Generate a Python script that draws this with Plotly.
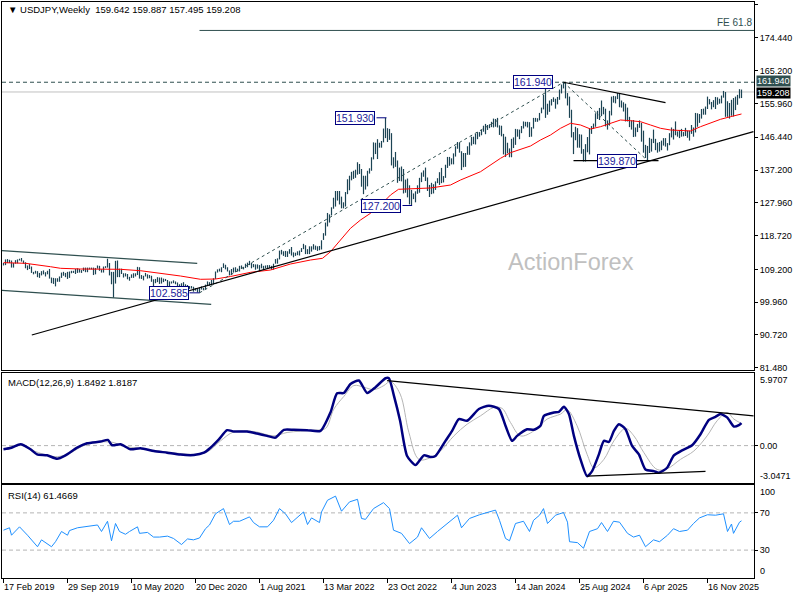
import plotly.graph_objects as go

# weekly USDJPY bars, week 0 = 17 Feb 2019
hi_2019 = [111.0, 112.0, 112.1, 111.9, 111.7, 111.0, 111.8, 112.0, 112.2, 112.4, 111.7, 111.2, 110.3, 110.7, 110.0, 108.5,
           108.8, 108.7, 108.2, 108.7, 108.9, 108.4, 108.8, 109.3, 106.9, 106.8, 106.7, 106.7, 107.2, 108.3, 108.5, 108.2,
           108.5, 108.6, 108.8, 108.8, 109.3, 109.5, 109.3, 109.0, 109.7, 109.7, 109.7, 109.7, 109.7, 109.7]
lo_2019 = [110.3, 110.4, 111.0, 111.0, 109.7, 109.7, 110.8, 110.9, 111.7, 111.4, 110.8, 109.5, 109.0, 109.3, 108.2, 107.8,
           108.0, 107.0, 106.8, 107.5, 107.8, 107.2, 107.8, 106.6, 105.3, 105.1, 104.4, 105.7, 105.7, 106.8, 107.4, 107.0,
           106.5, 106.8, 108.1, 108.2, 107.9, 108.2, 108.3, 108.2, 108.7, 108.4, 108.4, 109.2, 109.2, 107.6]
hi_2020 = [109.6, 110.3, 110.2, 109.2, 110.0, 110.1, 112.2, 111.0, 108.5, 108.5, 111.6, 111.7, 109.4, 109.4, 108.1, 108.1,
           107.9, 107.1, 107.8, 108.1, 108.1, 109.9, 109.8, 107.6, 107.4, 108.2, 107.8, 107.6, 107.4, 106.4, 106.5, 107.0,
           106.9, 106.9, 106.6, 106.5, 106.2, 105.8, 105.8, 106.1, 105.8, 105.5, 105.0, 105.3, 105.6, 105.0, 104.8, 104.5,
           104.5, 104.3, 103.9, 103.8]
lo_2020 = [107.8, 109.4, 108.8, 108.3, 108.3, 109.6, 109.7, 107.5, 105.0, 101.2, 105.2, 107.0, 107.0, 107.9, 106.9, 107.2,
           106.4, 106.0, 106.8, 106.8, 107.2, 107.6, 106.6, 106.5, 106.1, 107.2, 106.6, 106.7, 105.7, 104.2, 105.3, 105.6,
           105.1, 105.2, 105.6, 105.9, 104.3, 104.0, 105.2, 105.3, 105.0, 104.3, 104.0, 103.2, 103.2, 103.7, 103.7, 103.7,
           103.8, 102.9, 103.2, 102.7]
hi_2021 = [104.1, 104.4, 104.0, 104.9, 105.8, 105.6, 106.2, 106.7, 108.6, 109.2, 109.4, 109.8, 110.9, 110.5, 109.8, 108.9,
           109.3, 109.7, 109.8, 109.4, 110.2, 110.3, 109.9, 110.8, 111.1, 111.6, 111.0, 110.7, 110.6, 110.6, 110.4, 110.8,
           110.2, 110.3, 110.4, 110.4, 110.2, 110.8, 112.1, 112.3, 114.5, 114.7, 114.3, 114.4, 114.3, 114.9, 115.5, 114.0,
           113.9, 114.3, 114.5, 115.2]
lo_2021 = [102.6, 103.5, 103.3, 103.5, 104.5, 104.6, 104.9, 104.9, 106.5, 108.3, 108.6, 108.4, 109.6, 109.2, 108.6, 107.5,
           107.6, 108.3, 108.4, 108.6, 108.6, 109.3, 109.2, 109.6, 109.8, 110.4, 109.5, 109.8, 109.1, 109.4, 108.7, 109.5,
           109.1, 109.5, 109.6, 109.6, 109.1, 109.1, 110.8, 110.8, 112.0, 113.4, 113.0, 112.7, 112.7, 113.6, 113.1, 112.6,
           113.0, 113.2, 113.1, 114.1]
hi_2022 = [116.4, 116.0, 114.9, 115.7, 115.7, 116.3, 115.9, 115.7, 115.8, 117.4, 119.4, 122.4, 125.1, 124.7, 126.7, 129.4,
           131.3, 131.3, 131.3, 129.7, 128.1, 131.0, 134.6, 135.6, 136.7, 137.0, 137.3, 139.4, 138.9, 137.5, 135.6, 135.6,
           137.0, 137.7, 140.8, 145.0, 144.9, 145.9, 144.9, 145.4, 148.9, 151.9, 149.0, 148.8, 147.6, 140.8, 142.3, 139.9,
           137.9, 138.2, 137.5, 134.5]
lo_2022 = [114.9, 113.5, 113.5, 113.5, 114.2, 114.8, 114.7, 114.4, 114.6, 114.8, 117.5, 118.7, 121.3, 122.4, 124.4, 126.3,
           126.9, 128.6, 127.5, 126.4, 126.4, 126.9, 130.4, 131.5, 134.3, 134.7, 135.0, 135.9, 136.1, 132.5, 130.4, 131.7,
           132.6, 136.2, 137.0, 140.2, 141.7, 140.3, 143.5, 143.5, 145.0, 146.2, 145.1, 145.7, 138.5, 137.7, 138.1, 133.6,
           134.1, 134.0, 130.6, 130.8]
hi_2023 = [134.8, 132.9, 131.6, 130.6, 131.2, 132.9, 135.0, 136.5, 137.1, 137.9, 135.1, 133.0, 133.6, 133.2, 134.0, 134.9,
           136.6, 137.8, 135.5, 138.7, 140.9, 140.9, 140.5, 141.9, 143.9, 145.1, 144.9, 142.5, 142.0, 142.0, 143.9, 145.0,
           146.6, 146.6, 147.4, 147.9, 147.9, 148.5, 149.7, 150.2, 149.9, 150.1, 150.8, 151.7, 151.6, 151.9, 149.8, 149.7,
           147.4, 146.6, 144.9, 143.3]
lo_2023 = [129.5, 127.5, 127.2, 129.0, 128.1, 130.5, 130.8, 133.8, 135.3, 134.1, 131.3, 129.6, 130.4, 130.6, 131.6, 133.5,
           133.0, 133.5, 133.7, 135.0, 137.8, 138.4, 138.8, 138.8, 141.0, 143.2, 142.1, 137.2, 138.0, 138.1, 141.5, 141.5,
           144.1, 144.5, 144.4, 145.9, 146.6, 147.0, 148.0, 147.3, 148.5, 149.0, 149.3, 149.2, 149.4, 149.2, 147.1, 146.7,
           141.6, 140.9, 141.9, 140.8]
hi_2024 = [146.0, 146.4, 148.8, 148.7, 148.6, 149.6, 150.9, 150.8, 150.8, 150.7, 149.3, 151.9, 151.9, 151.8, 153.3, 154.8,
           158.4, 160.2, 155.9, 156.8, 157.2, 157.7, 157.3, 157.8, 159.9, 161.3, 161.95, 161.8, 158.9, 157.9, 154.2, 147.9,
           149.4, 149.0, 147.3, 147.2, 143.1, 144.5, 146.5, 149.0, 149.6, 150.3, 153.2, 153.9, 154.7, 156.8, 155.0, 154.5,
           151.2, 153.9, 157.9, 158.1, 158.0]
lo_2024 = [140.8, 143.4, 144.3, 146.6, 145.9, 147.6, 148.9, 149.5, 149.2, 146.5, 146.6, 148.9, 150.8, 150.8, 151.2, 153.2,
           154.3, 151.9, 152.8, 153.6, 155.4, 156.4, 154.5, 155.7, 157.0, 158.8, 160.2, 157.4, 155.4, 151.9, 146.4, 141.7,
           145.6, 143.5, 143.5, 141.8, 139.6, 139.6, 142.2, 141.6, 147.4, 148.8, 149.4, 151.6, 151.3, 152.4, 152.9, 149.5,
           148.6, 149.8, 152.6, 156.2, 156.0]
hi_2025 = [158.9, 158.9, 156.8, 156.3, 155.9, 154.8, 152.2, 151.2, 151.3, 149.2, 150.2, 151.2, 150.5, 148.3, 144.3, 144.0,
           146.3, 146.0, 148.6, 146.0, 144.9, 145.1, 145.5, 146.2, 146.2, 144.8, 147.6, 149.2, 148.8, 150.9, 148.1, 148.5,
           148.8, 147.9, 149.1, 148.3, 148.3, 149.9, 149.2, 153.3, 153.2, 153.0, 154.4, 154.5, 155.1, 157.9, 157.2, 156.4,
           156.9, 157.8, 157.7, 157.3]
lo_2025 = [157.2, 154.9, 154.8, 153.7, 150.9, 150.9, 149.3, 148.6, 146.5, 146.6, 147.9, 149.1, 145.2, 142.1, 140.6, 139.9,
           142.0, 142.4, 144.8, 142.8, 142.1, 142.4, 142.8, 144.1, 143.8, 142.7, 144.2, 146.4, 145.8, 147.0, 146.6, 146.2,
           146.6, 146.7, 146.8, 146.3, 145.5, 147.4, 146.6, 147.8, 149.4, 150.5, 151.7, 152.8, 152.8, 154.4, 155.7, 154.3,
           154.9, 154.4, 155.6, 155.9]
hi_2026 = [158.2, 159.5, 159.2, 156.6, 156.1, 157.0, 157.5, 157.9, 158.4, 160.0, 159.887]
lo_2026 = [156.0, 157.6, 152.2, 152.2, 151.7, 152.5, 152.3, 154.1, 155.6, 157.4, 157.495]

highs = hi_2019 + hi_2020 + hi_2021 + hi_2022 + hi_2023 + hi_2024 + hi_2025 + hi_2026
lows = lo_2019 + lo_2020 + lo_2021 + lo_2022 + lo_2023 + lo_2024 + lo_2025 + lo_2026

# red moving average
ma_weeks = [0, 11, 23.5, 28.5, 38.5, 48.5, 58.5, 68.5, 78.5, 88.5, 98.5, 106, 113.5, 123.5, 133.5, 143.5, 153.5, 159.5,
            163.5, 168.5, 173.5, 178.5, 183.5, 188.5, 193.5, 197.5, 203.5, 213.5, 223.5, 228.5, 238.5, 248.5, 253.5,
            258.5, 263.5, 268.5, 273.5, 278.5, 283.5, 288.5, 293.5, 298.5, 303.5, 308.5, 313.5, 318.5, 323.5, 328.5,
            333.5, 338.5, 343.5, 348.5, 353.5, 358.5, 363.5, 369]
ma_vals = [111.08, 110.91, 109.95, 109.50, 109.30, 109.30, 109.22, 108.82, 108.09, 107.33, 106.40, 106.48, 107.19, 108.37,
           109.02, 110.71, 111.84, 112.32, 114.18, 117.48, 120.78, 123.12, 125.01, 127.34, 130.16, 131.77, 131.85, 132.14,
           132.98, 134.39, 136.73, 140.51, 142.09, 143.05, 143.98, 145.67, 147.08, 148.97, 150.38, 149.90, 148.77, 149.42,
           150.38, 151.31, 151.11, 150.83, 149.90, 148.97, 148.49, 148.29, 148.21, 149.42, 150.55, 151.50, 152.24, 153.00]

macd_weeks = [0, 4, 8.5, 13.5, 16.8, 21.8, 26.8, 31, 36.8, 41.8, 48.5, 52.2, 54.3, 58.5, 63.5, 68.5, 75.2, 81.8, 88.5,
              95.2, 100.2, 103.5, 107.7, 111.8, 115.2, 121.8, 126.8, 131.8, 136, 140.2, 145.2, 151.8, 158.5, 163.5,
              166.8, 170.2, 173.5, 177.7, 181.8, 186, 191, 192.7, 195.2, 198.3, 201.8, 206, 210.2, 213.5, 216, 221,
              224.3, 227.7, 231.8, 237.7, 242.7, 247.7, 251, 254.3, 256.8, 261.8, 265.2, 268.5, 270.2, 275.2, 277.7,
              280.2, 282.7, 285.2, 288.5, 291.8, 294.3, 297.7, 300.2, 302.7, 305.2, 307.7, 311, 314.3, 317.7, 321,
              325.2, 327.7, 331.8, 335.2, 339.3, 344.3, 348.5, 352.7, 356, 358.5, 361.8, 365.2, 367.7, 369]
macd_vals = [-0.30, -0.17, 0.11, -0.30, -0.72, -0.80, -1.08, -0.80, -0.17, 0.19, 0.33, 0.47, 0.03, 0.11, -0.30, -0.22,
             -0.44, -0.58, -0.74, -0.77, -0.58, -0.17, 0.52, 1.27, 1.16, 1.16, 0.99, 0.80, 0.66, 1.30, 1.30, 1.27, 1.21,
             2.73, 4.30, 4.33, 5.07, 5.35, 4.33, 4.80, 5.54, 5.54, 4.11, 2.04, -0.85, -1.60, -0.80, -0.94, -0.85, 0.39,
             1.21, 2.18, 2.04, 3.01, 3.28, 3.01, 1.63, 0.39, 0.80, 1.35, 1.30, 1.63, 2.45, 2.73, 2.78, 3.20, 2.59, 0.80,
             -1.13, -2.51, -2.10, -0.72, 0.39, 0.30, 1.21, 1.76, 1.35, -0.03, -0.72, -1.96, -2.10, -2.23, -1.82, -0.80,
             -0.39, 0.03, 0.94, 2.12, 2.37, 2.59, 2.32, 1.57, 1.68, 1.85]

sig_weeks = [0, 8.5, 15.2, 25.2, 31.8, 41.8, 53.5, 60.2, 68.5, 81.8, 95.2, 101.8, 108.5, 115.2, 125.2, 135.2, 141.8,
             155.2, 161, 165.2, 170.2, 175.2, 180.2, 185.2, 190.2, 193.5, 198.3, 202.7, 207.7, 213.5, 218.5, 225.2,
             231.8, 238.5, 245.2, 249.3, 253.5, 258.5, 265.2, 271.8, 278.5, 281.8, 286.8, 291.8, 295.2, 300.2, 305.2,
             311, 315.2, 320.2, 326.8, 331.8, 338.5, 345.2, 351.8, 356.8, 361.8, 365.2, 369]
sig_vals = [-0.30, 0.03, -0.44, -0.91, -0.72, 0.11, 0.30, -0.03, -0.25, -0.52, -0.72, -0.52, 0.39, 1.13, 1.16, 0.80,
            1.08, 1.27, 1.41, 3.01, 4.05, 4.94, 4.80, 4.60, 4.94, 5.27, 4.25, 1.08, -1.13, -0.99, -0.44, 0.80, 1.76,
            2.45, 3.14, 3.06, 1.90, 0.80, 1.21, 2.18, 2.59, 2.95, 1.63, -0.72, -1.82, -1.13, 0.39, 1.41, 0.80, -0.58,
            -1.96, -1.90, -1.13, -0.44, 0.80, 2.04, 2.73, 2.18, 1.82]

rsi_weeks = [0, 3, 4, 8, 12, 15, 17, 19, 22, 24, 26, 29, 32, 33, 37, 40, 43, 47, 49, 52, 54, 56, 58, 61, 63, 67, 68,
             72, 75, 78, 82, 85, 89, 92, 95, 98, 101, 103, 106, 110, 113, 115, 118, 123, 125, 128, 132, 135, 138, 141,
             144, 147, 150, 152, 154, 158, 159, 162, 166, 169, 173, 177, 179, 181, 185, 190, 193, 195, 199, 203, 207,
             209, 213, 217, 220, 223, 227, 229, 233, 238, 242, 246, 248, 251, 253, 256, 260, 263, 265, 268, 270, 272,
             276, 280, 282, 283, 287, 290, 293, 297, 299, 302, 305, 308, 312, 315, 318, 321, 325, 328, 332, 335, 338,
             342, 345, 348, 352, 356, 360, 362, 364, 365, 368, 369]
rsi_vals = [51.4, 54, 46, 55, 46, 38, 33.6, 41, 37, 33.6, 39, 50, 46, 51, 54, 55, 56, 57, 50, 61, 40, 58.6, 50, 47, 50,
            55, 48, 49, 44, 44, 45, 42.5, 36, 42, 41, 43, 53, 57, 69, 74.6, 57.5, 61, 61, 65.7, 59.6, 55, 55, 62, 74.6,
            69, 59.6, 65.7, 71, 57.5, 64.6, 59.6, 71, 83.6, 88, 71.8, 81.8, 84.6, 64, 63, 74.6, 81, 74.6, 51.4, 48, 37,
            44, 54, 42.5, 50, 55, 61, 67.5, 54, 64, 68, 70.4, 73, 62, 42.5, 40, 58.6, 61, 50, 62, 67.5, 74.6, 58.6,
            67.5, 70.4, 60, 39, 38, 32, 50, 53, 59.6, 50, 61, 60, 48, 44, 46, 33.6, 41, 39, 46, 53, 50, 51.4, 58.6,
            64.6, 68, 67.5, 69, 50, 58, 48, 60, 61.47]

price_ticks = [183.96, 174.44, 165.2, 155.96, 146.44, 137.2, 127.96, 118.72, 109.2, 99.96, 90.72, 81.48]
date_ticks = [0, 32, 64, 96, 128, 160, 192, 224, 256, 288, 320, 352]
date_labels = ["17 Feb 2019", "29 Sep 2019", "10 May 2020", "20 Dec 2020", "1 Aug 2021", "13 Mar 2022",
               "23 Oct 2022", "4 Jun 2023", "14 Jan 2024", "25 Aug 2024", "6 Apr 2025", "16 Nov 2025"]

# drawn objects (week, price)
trend_long = ([14.15, 375], [90.70, 148.01])
channel_up = ([-0.75, 96.85], [114.46, 110.91])
channel_lo = ([-0.75, 103.85], [103.30, 99.35])
res_line = ([280, 331], [161.94, 156.18])
sup_line = ([285, 327.5], [139.87, 139.87])
fe_points = ([98, 280, 322], [102.585, 161.94, 139.87])
fe_level = 176.55
macd_res = ([191.8, 375], [5.35, 2.45])
macd_sup = ([291.8, 351], [-2.51, -2.12])
labels = [("102.585", 82.5, 102.585, 93, 98), ("151.930", 175.75, 151.93, 186.5, 191.5),
          ("127.200", 188.75, 127.2, 199.5, 204.3), ("161.940", 264.75, 161.94, None, None),
          ("139.870", 306.75, 139.87, None, None)]

FONT = "Liberation Sans, Arial, sans-serif"
SLATE = "#2F4F4F"
BAR = "#1C4454"
X0, X1 = -0.75, 375.25

fig = go.Figure()

bx, by = [], []
for i in range(len(highs)):
    bx += [i, i, None]
    by += [lows[i], highs[i], None]
fig.add_trace(go.Scatter(x=bx, y=by, mode="lines", line=dict(color=BAR, width=1.2), xaxis="x", yaxis="y"))
fig.add_trace(go.Scatter(x=ma_weeks, y=ma_vals, mode="lines", line=dict(color="#FF0000", width=1), xaxis="x", yaxis="y"))
fig.add_trace(go.Scatter(x=sig_weeks, y=sig_vals, mode="lines", line=dict(color="#B4B4B4", width=1, shape="spline"),
                         xaxis="x2", yaxis="y2"))
fig.add_trace(go.Scatter(x=macd_weeks, y=macd_vals, mode="lines",
                         line=dict(color="#000080", width=2.5, shape="spline", smoothing=0.6),
                         xaxis="x2", yaxis="y2"))
fig.add_trace(go.Scatter(x=rsi_weeks, y=rsi_vals, mode="lines", line=dict(color="#1E90FF", width=1),
                         xaxis="x3", yaxis="y3"))

shapes = []


def seg(xs, ys, color, width=1, dash="solid", xr="x", yr="y"):
    for k in range(len(xs) - 1):
        shapes.append(dict(type="line", xref=xr, yref=yr, x0=xs[k], x1=xs[k + 1], y0=ys[k], y1=ys[k + 1],
                           line=dict(color=color, width=width, dash=dash), layer="above"))


def hline(y, color, dash, yr, x0=0, x1=1, xr="x domain"):
    shapes.append(dict(type="line", xref=xr, yref=yr, x0=x0, x1=x1, y0=y, y1=y,
                       line=dict(color=color, width=1, dash=dash), layer="below"))


hline(highs[280], SLATE, "4px,3px", "y")
hline(159.208, "#C0C0C0", "solid", "y")
hline(fe_level, SLATE, "solid", "y", x0=fe_points[0][0], x1=X1, xr="x")
seg(*channel_up, SLATE, 1.2)
seg(*channel_lo, SLATE, 1.2)
seg(*fe_points, SLATE, 1, "3px,3px")
seg(*trend_long, "#000000", 1.2)
seg(*res_line, "#000000", 1.2)
seg(*sup_line, "#000000", 1.2)
hline(0, "#B4B4B4", "4px,3px", "y2")
seg(*macd_res, "#000000", 1.2, xr="x2", yr="y2")
seg(*macd_sup, "#000000", 1.2, xr="x2", yr="y2")
hline(70, "#B4B4B4", "4px,3px", "y3")
hline(30, "#B4B4B4", "4px,3px", "y3")

ann = []
for txt, xc, yv, c0, c1 in labels:
    if c0 is not None:
        seg([c0, c1], [yv, yv], "#000080", 1)
    ann.append(dict(x=xc, y=yv, xref="x", yref="y", text=txt, showarrow=False, bgcolor="white",
                    bordercolor="#000080", borderwidth=1, borderpad=0,
                    font=dict(family=FONT, size=10.5, color="#22229A")))

ann.append(dict(x=1, y=fe_level, xref="paper", yref="y", text="FE 61.8", showarrow=False, xanchor="right",
                yanchor="bottom", font=dict(family=FONT, size=10, color=SLATE)))
ann.append(dict(x=0.7564, y=0.5486, xref="paper", yref="paper", text="ActionForex", showarrow=False,
                xanchor="center", yanchor="middle", font=dict(family=FONT, size=23.5, color="#C0C0C0")))

tops = [("\u25bc USDJPY,Weekly\u00a0\u00a0159.642 159.887 157.495 159.208", 10),
        ("MACD(12,26,9) 1.8492 1.8187", 382), ("RSI(14) 61.4669", 495)]
for txt, py in tops:
    ann.append(dict(x=0.0055, y=(578 - py) / 576, xref="paper", yref="paper", text=txt, showarrow=False,
                    xanchor="left", yanchor="middle", font=dict(family=FONT, size=9.5, color="#000000")))

for txt, yv, bg, dy in [("161.940", 161.94, SLATE, 1), ("159.208", 159.208, "#000000", -1)]:
    ann.append(dict(x=1, y=yv, xref="paper", yref="y", text=txt, showarrow=False, xanchor="left", yanchor="middle",
                    xshift=2, yshift=dy, bgcolor=bg, borderpad=0, font=dict(family=FONT, size=9, color="white")))

for txt, yr, yv, anc in [("5.9707", "y2 domain", 1, "top"), ("-3.0471", "y2 domain", 0, "bottom"),
                         ("100", "y3 domain", 1, "top"), ("0", "y3 domain", 0, "bottom")]:
    ann.append(dict(x=1, y=yv, xref="paper", yref=yr, text=txt, showarrow=False, xanchor="left", yanchor=anc,
                    xshift=4, font=dict(family=FONT, size=9, color="#000000")))

for w, txt in zip(date_ticks, date_labels):
    ann.append(dict(x=w, y=0, xref="x3", yref="paper", text=txt, showarrow=False, xanchor="left", yanchor="top",
                    xshift=-2, yshift=-2, font=dict(family=FONT, size=9, color="#000000")))

frame = dict(showline=True, linecolor="#000000", linewidth=1, mirror=True, showgrid=False, zeroline=False)
xcommon = dict(range=[X0, X1], showticklabels=False, **frame)
ycommon = dict(side="right", ticks="outside", ticklen=3, tickcolor="#000000",
               tickfont=dict(family=FONT, size=9, color="#000000"), **frame)

fig.update_layout(
    width=800, height=600,
    margin=dict(l=2, r=46, t=2, b=22),
    paper_bgcolor="white", plot_bgcolor="white",
    showlegend=False, hovermode=False,
    xaxis=dict(anchor="y", ticks="", **xcommon),
    xaxis2=dict(anchor="y2", matches="x", ticks="", **xcommon),
    xaxis3=dict(anchor="y3", matches="x", ticks="outside", ticklen=4, tickcolor="#000000",
                tickvals=date_ticks, **xcommon),
    yaxis=dict(anchor="x", domain=[0.3611, 1], range=[80.83, 184.57], tickvals=price_ticks,
               ticktext=["%.3f" % v for v in price_ticks], **ycommon),
    yaxis2=dict(anchor="x2", domain=[0.1655, 0.3559], range=[-3.0471, 5.9707], tickvals=[0],
                ticktext=["0.00"], **ycommon),
    yaxis3=dict(anchor="x3", domain=[0, 0.1615], range=[0, 100], tickvals=[70, 30], **ycommon),
    shapes=shapes,
    annotations=ann,
)

# browser default body margin would shift the 800x600 figure
fig.write_html("out.html", config={"displayModeBar": False},
               post_script="document.body.style.margin='0';")
